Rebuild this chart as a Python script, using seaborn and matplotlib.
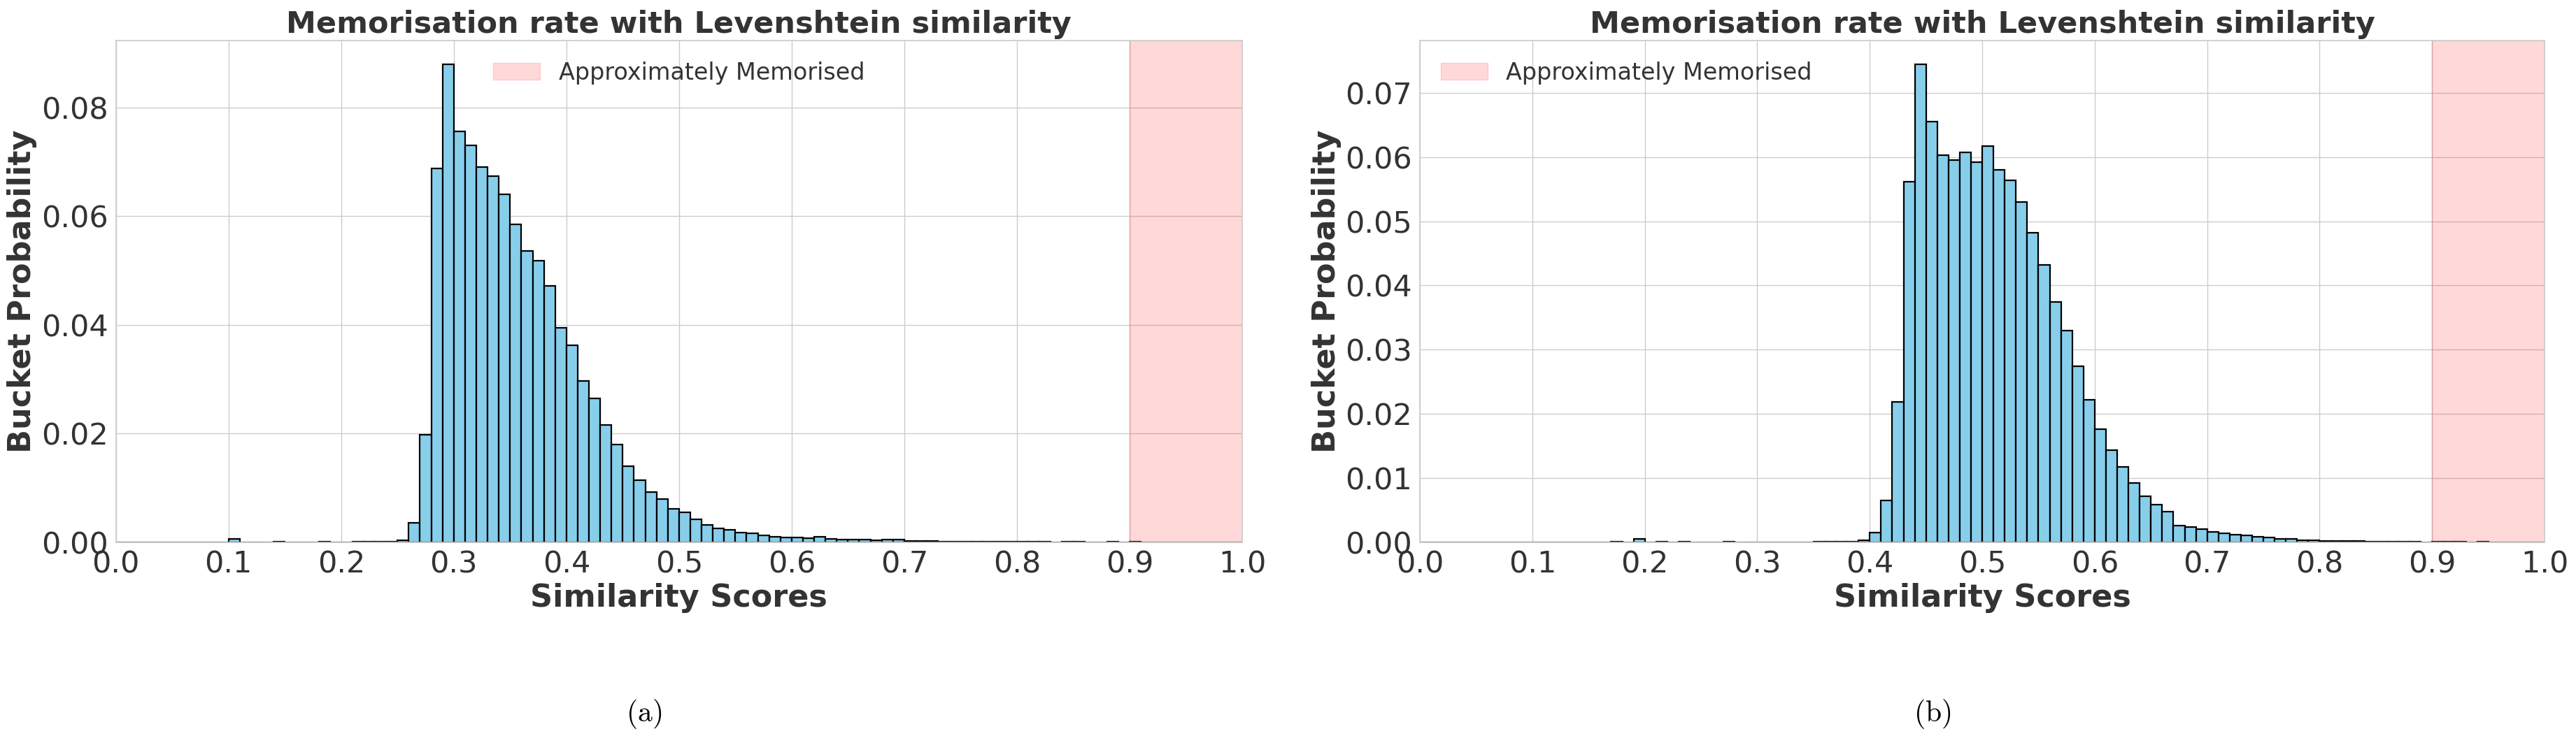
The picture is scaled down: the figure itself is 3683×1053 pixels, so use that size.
import matplotlib

matplotlib.use("Agg")
import matplotlib.pyplot as plt
import numpy as np
import pandas as pd
import seaborn as sns

# bucket probabilities for bins [0.00, 0.01), ..., [0.99, 1.00)
BIN_WIDTH = 0.01
bin_left = np.round(np.arange(0, 1, BIN_WIDTH), 2)

# (a) - values read per bucket, everything not listed is zero
prob_a_nonzero = {
    0.10: 0.00056, 0.14: 0.00003, 0.18: 0.00002, 0.21: 0.00002, 0.22: 0.00002,
    0.23: 0.00002, 0.24: 0.00005, 0.25: 0.00034, 0.26: 0.0035, 0.27: 0.0198,
    0.28: 0.0688, 0.29: 0.0880, 0.30: 0.0756, 0.31: 0.0731, 0.32: 0.0691,
    0.33: 0.0674, 0.34: 0.0640, 0.35: 0.0585, 0.36: 0.0536, 0.37: 0.0518,
    0.38: 0.0472, 0.39: 0.0395, 0.40: 0.0363, 0.41: 0.0297, 0.42: 0.0264,
    0.43: 0.0216, 0.44: 0.0179, 0.45: 0.0140, 0.46: 0.0114, 0.47: 0.0092,
    0.48: 0.0079, 0.49: 0.0061, 0.50: 0.0055, 0.51: 0.0042, 0.52: 0.0032,
    0.53: 0.0025, 0.54: 0.0022, 0.55: 0.0017, 0.56: 0.0016, 0.57: 0.0012,
    0.58: 0.0010, 0.59: 0.00086, 0.60: 0.00086, 0.61: 0.0007, 0.62: 0.00095,
    0.63: 0.0006, 0.64: 0.0005, 0.65: 0.00047, 0.66: 0.00043, 0.67: 0.00034,
    0.68: 0.0005, 0.69: 0.00043, 0.70: 0.0002, 0.71: 0.00017, 0.72: 0.00017,
    0.73: 0.0001, 0.74: 0.00005, 0.75: 0.0001, 0.76: 0.0001, 0.77: 0.0001,
    0.78: 0.00005, 0.79: 0.00005, 0.80: 0.00005, 0.81: 0.00005, 0.82: 0.00005,
    0.84: 0.00003, 0.85: 0.00003, 0.88: 0.00003, 0.90: 0.00003,
}

# (b)
prob_b_nonzero = {
    0.17: 0.00002, 0.19: 0.00044, 0.21: 0.00002, 0.23: 0.00002, 0.27: 0.00002,
    0.35: 0.00002, 0.36: 0.00002, 0.37: 0.00003, 0.38: 0.0001, 0.39: 0.0003,
    0.40: 0.0015, 0.41: 0.0065, 0.42: 0.0219, 0.43: 0.0562, 0.44: 0.0745,
    0.45: 0.0655, 0.46: 0.0603, 0.47: 0.0596, 0.48: 0.0608, 0.49: 0.0592,
    0.50: 0.0617, 0.51: 0.0580, 0.52: 0.0564, 0.53: 0.0530, 0.54: 0.0482,
    0.55: 0.0432, 0.56: 0.0374, 0.57: 0.0330, 0.58: 0.0274, 0.59: 0.0222,
    0.60: 0.0176, 0.61: 0.0143, 0.62: 0.0117, 0.63: 0.0092, 0.64: 0.0071,
    0.65: 0.0058, 0.66: 0.0047, 0.67: 0.0026, 0.68: 0.0024, 0.69: 0.0020,
    0.70: 0.0016, 0.71: 0.0014, 0.72: 0.0012, 0.73: 0.0010, 0.74: 0.00085,
    0.75: 0.00074, 0.76: 0.00044, 0.77: 0.00044, 0.78: 0.00033, 0.79: 0.0003,
    0.80: 0.00022, 0.81: 0.00018, 0.82: 0.00018, 0.83: 0.00015, 0.84: 0.00007,
    0.85: 0.00007, 0.86: 0.00004, 0.87: 0.00004, 0.88: 0.00002, 0.90: 0.00002,
    0.91: 0.00002, 0.92: 0.00002, 0.94: 0.00001,
}

MEMORISED_FROM = 0.9
TITLE = "Memorisation rate with Levenshtein similarity"
XLABEL = "Similarity Scores"
YLABEL = "Bucket Probability"
SPAN_LABEL = "Approximately Memorised"
CAPTIONS = ["(a)", "(b)"]
XTICKS = np.round(np.arange(0, 1.01, 0.1), 1)
TEXT_COLOR = "#333333"


def build_frame(nonzero: dict) -> pd.DataFrame:
    probs = [nonzero.get(float(b), 0.0) for b in bin_left]
    return pd.DataFrame({"score": bin_left + BIN_WIDTH / 2, "prob": probs})


def plot_panel(ax, df: pd.DataFrame, legend_loc: str) -> None:
    sns.histplot(
        data=df, x="score", weights="prob", binwidth=BIN_WIDTH, binrange=(0, 1),
        stat="count", color="skyblue", edgecolor="black", linewidth=1.6,
        alpha=1, ax=ax,
    )
    ax.axvspan(MEMORISED_FROM, 1.0, color="red", alpha=0.15, label=SPAN_LABEL)
    ax.set_xlim(0, 1)
    ax.set_xticks(XTICKS)
    ax.set_title(TITLE, fontsize=31, fontweight="bold", pad=8, color=TEXT_COLOR)
    ax.set_xlabel(XLABEL, fontsize=32, fontweight="bold", labelpad=4, color=TEXT_COLOR)
    ax.set_ylabel(YLABEL, fontsize=32, fontweight="bold", color=TEXT_COLOR)
    ax.tick_params(axis="both", labelsize=31, pad=2, labelcolor=TEXT_COLOR)
    leg = ax.legend(loc=legend_loc, fontsize=24, frameon=False)
    for txt in leg.get_texts():
        txt.set_color(TEXT_COLOR)


def main() -> None:
    sns.set_theme(style="whitegrid")
    plt.rcParams["font.family"] = ["DejaVu Sans"]
    plt.rcParams["mathtext.fontset"] = "cm"

    fig, axes = plt.subplots(1, 2, figsize=(36.83, 10.53), dpi=100)
    plot_panel(axes[0], build_frame(prob_a_nonzero), "upper center")
    plot_panel(axes[1], build_frame(prob_b_nonzero), "upper left")

    axes[0].set_position([0.0450, 0.2635, 0.4372, 0.6817])
    axes[1].set_position([0.5512, 0.2635, 0.4366, 0.6817])

    for x, cap in zip([0.25, 0.75], CAPTIONS):
        fig.text(x, 0.03, rf"$\mathrm{{{cap}}}$", ha="center", va="center",
                 fontsize=30, color="black")

    fig.savefig("out.png", dpi=100)


if __name__ == "__main__":
    main()
